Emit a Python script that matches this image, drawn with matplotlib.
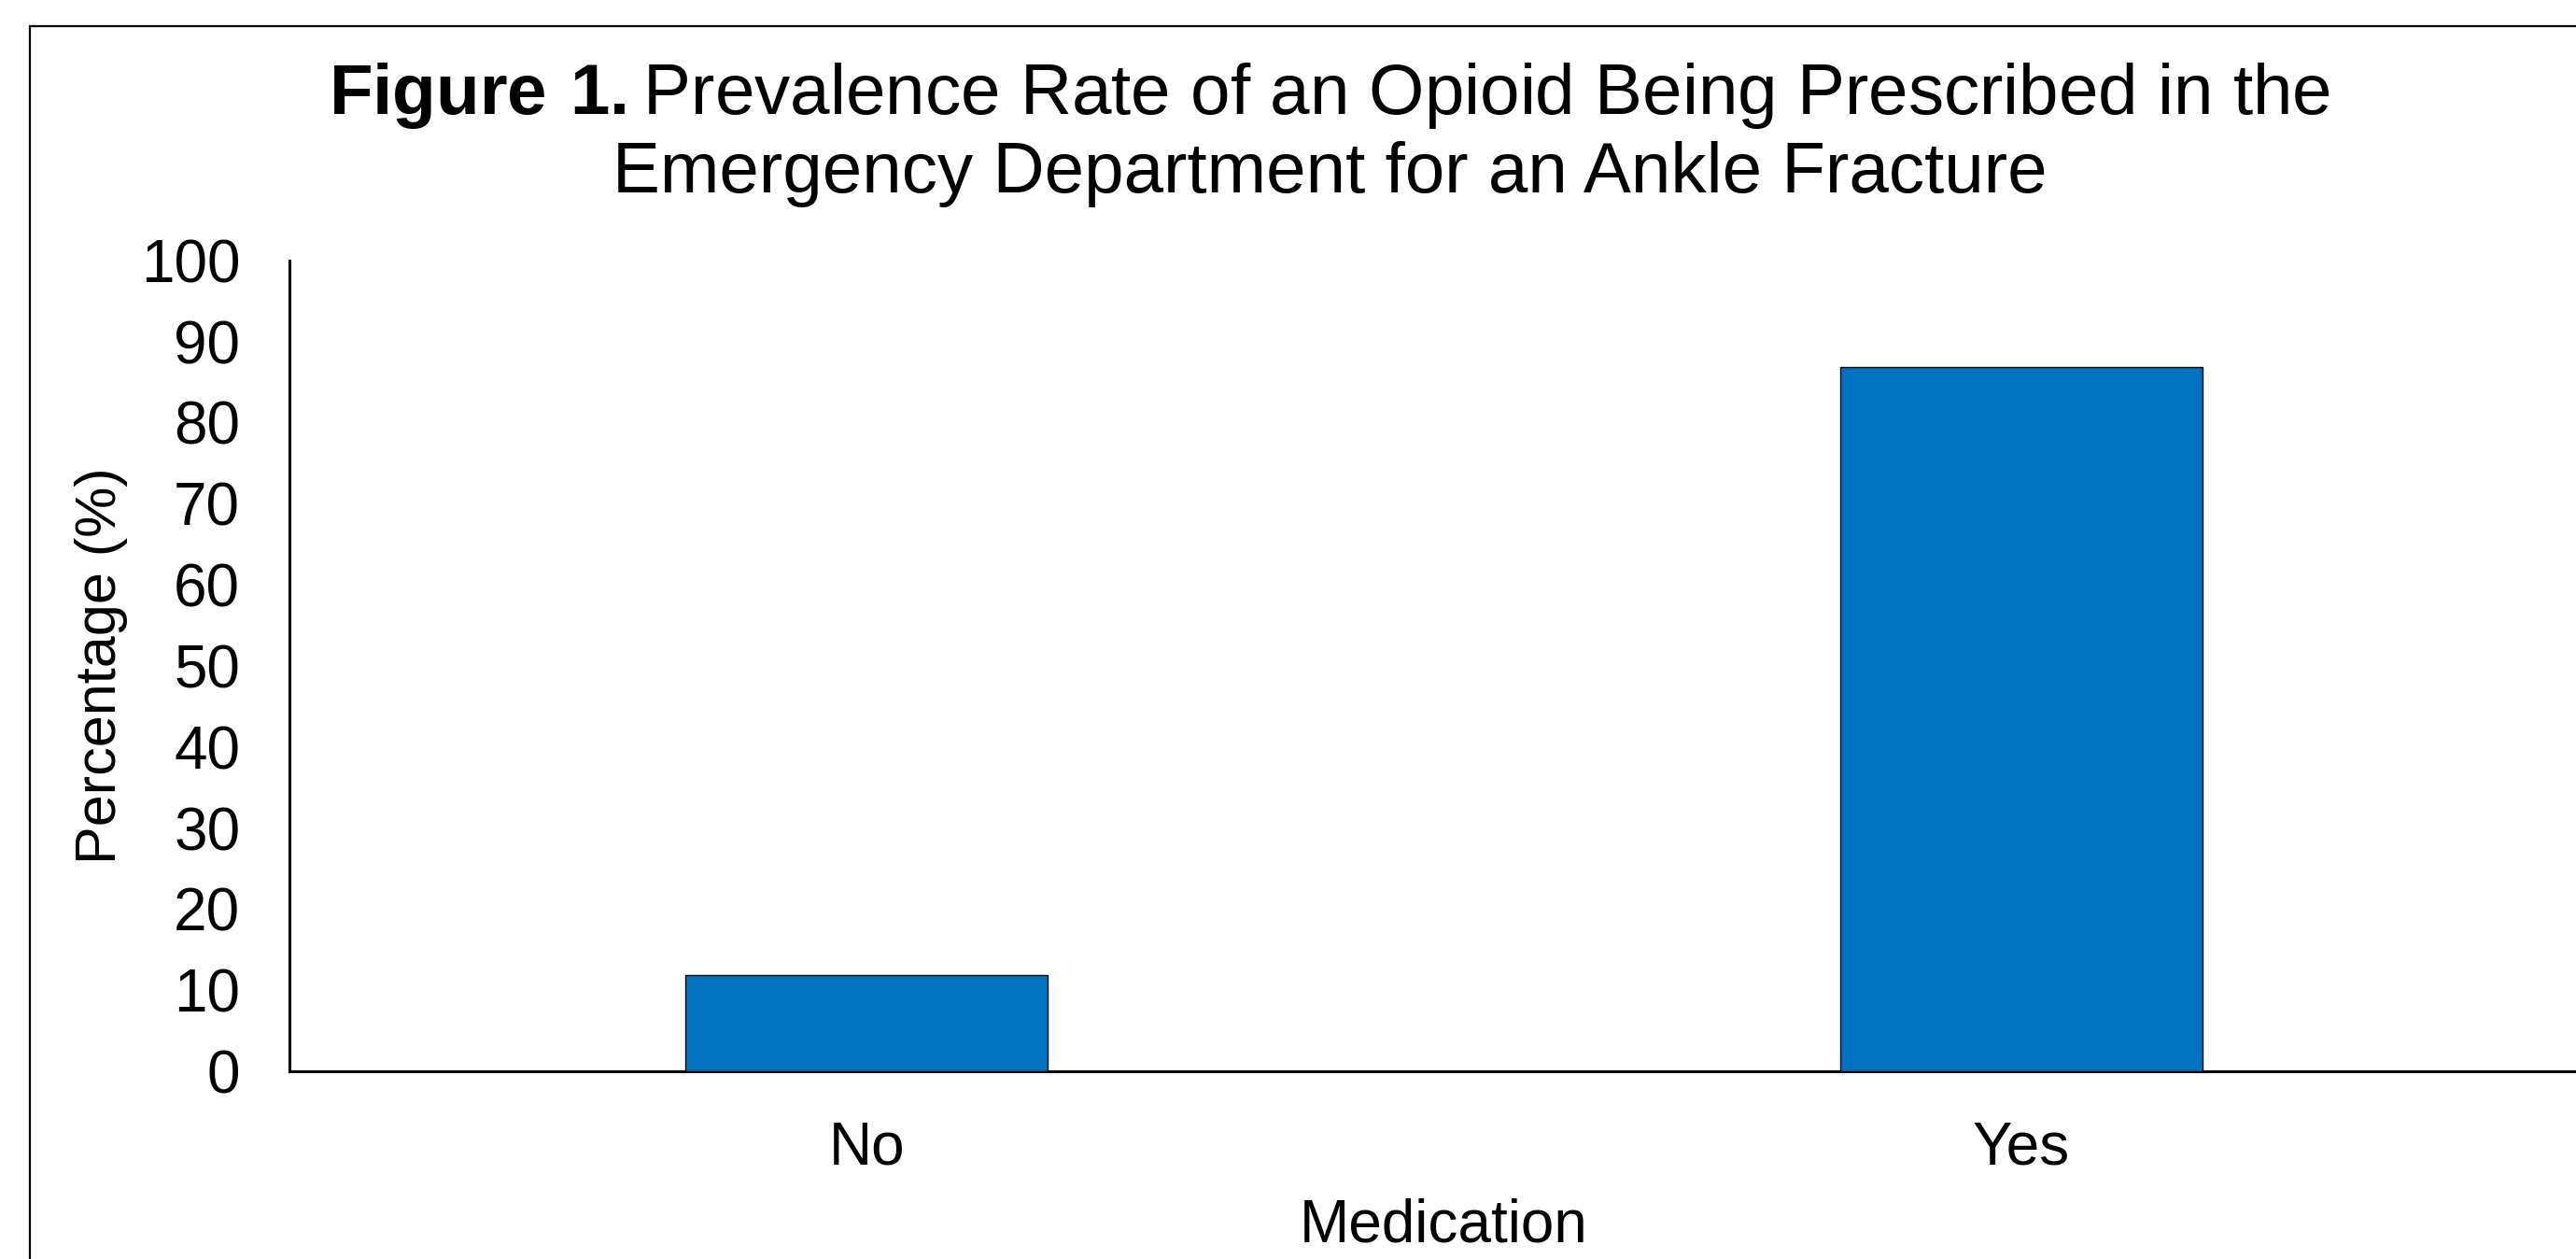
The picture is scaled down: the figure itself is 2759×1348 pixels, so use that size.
import matplotlib
matplotlib.use("Agg")
import matplotlib.pyplot as plt
from matplotlib.patches import Rectangle

categories = ["No", "Yes"]
values = [11.9, 86.8]
y_ticks = [0, 10, 20, 30, 40, 50, 60, 70, 80, 90, 100]

plt.rcParams['font.family'] = ['Liberation Sans', 'DejaVu Sans']
plt.rcParams['mathtext.fontset'] = 'custom'
plt.rcParams['mathtext.bf'] = 'Liberation Sans:bold'
plt.rcParams['mathtext.rm'] = 'Liberation Sans'

W, H = 2759, 1348
fig = plt.figure(figsize=(W / 100, H / 100), dpi=100)

# plot area in pixels (right edge runs a bit past the image, like the source crop)
left, right, top, bottom = 310, 2783, 278.7, 1147
ax = fig.add_axes([left / W, 1 - bottom / H, (right - left) / W, (bottom - top) / H])

x = range(len(categories))
ax.bar(x, values, width=0.314, color='#0070C0', edgecolor='black', linewidth=1.0, zorder=3)

ax.set_xlim(-0.5, 1.5)
ax.set_ylim(0, 100)
ax.set_yticks(y_ticks)
ax.set_xticks(list(x))
ax.set_xticklabels(categories)
ax.tick_params(axis='both', length=0, labelsize=46)
ax.tick_params(axis='x', pad=38)
ax.tick_params(axis='y', pad=38)

for s in ['top', 'right']:
    ax.spines[s].set_visible(False)
for s in ['left', 'bottom']:
    ax.spines[s].set_linewidth(2.2)
    ax.spines[s].set_color('black')

ax.set_xlabel("Medication", fontsize=46, labelpad=16)
ax.set_ylabel("Percentage (%)", fontsize=44, labelpad=10)

fig.text(1424 / W, 1 - 143 / H,
         r"$\bf{Figure\ 1.}$Prevalence Rate of an Opioid Being Prescribed in the" + "\n"
         + "Emergency Department for an Ankle Fracture",
         ha='center', va='center', fontsize=55, linespacing=1.2)

# outer chart border, cut off at right and bottom
fig.patches.append(Rectangle((32 / W, -0.2), 1.2, 1 - 28 / H + 0.2,
                             transform=fig.transFigure, fill=False,
                             edgecolor='black', linewidth=1.6))

fig.savefig("out.png", dpi=100)
